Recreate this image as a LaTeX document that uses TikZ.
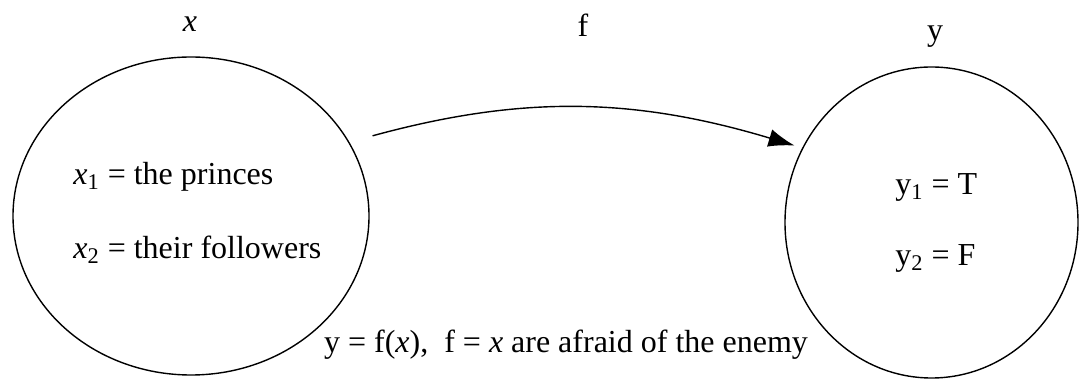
\documentclass[tikz,border=0pt]{standalone}
\usepackage{fontspec}
\setmainfont{Liberation Serif}
\usetikzlibrary{arrows.meta, shapes.geometric, positioning}
\tikzset{>=latex}
\tikzset{
	set/.style={shape=ellipse, draw, line width=0.7pt, inner sep=0pt},
	lbl/.style={anchor=center, inner sep=0pt},
	elem/.style={anchor=west, inner sep=0pt}
}

\begin{document}
\begin{tikzpicture}[x=0.5pt, y=0.5pt, font=\fontsize{16}{19}\selectfont]
	\useasboundingbox (0, 0) rectangle (1081, 380);
	% Sets and their elements:
	\node[set, minimum width=178pt, minimum height=159pt] (setX) at (191, 164){};
	\node[set, minimum width=146.5pt, minimum height=155.5pt] (setY) at (931.5, 157.5){};
	\node[lbl] (labX) at (190, 356){\textit{x}};
	\node[lbl] (labY) at (935, 343){y};
	\node[lbl] (labF) at (583, 355){f};
	\node[elem] (x1) at (73, 203){\textit{x}\textsubscript{1} = the princes};
	\node[elem] (x2) at (73, 130){\textit{x}\textsubscript{2} = their followers};
	\node[elem] (y1) at (895, 193){y\textsubscript{1} = T};
	\node[elem] (y2) at (895, 122){y\textsubscript{2} = F};
	\node[lbl] (rule) at (566, 35){y = f(\textit{x}),\enspace f = \textit{x} are afraid of the enemy};
	% Mapping:
	\draw[line width=0.7pt, -{Latex[length=13pt, width=9pt]}, shorten <=12pt, shorten >=4pt] (setX.25) to[bend left=16] (setY.150);
\end{tikzpicture}
\end{document}
